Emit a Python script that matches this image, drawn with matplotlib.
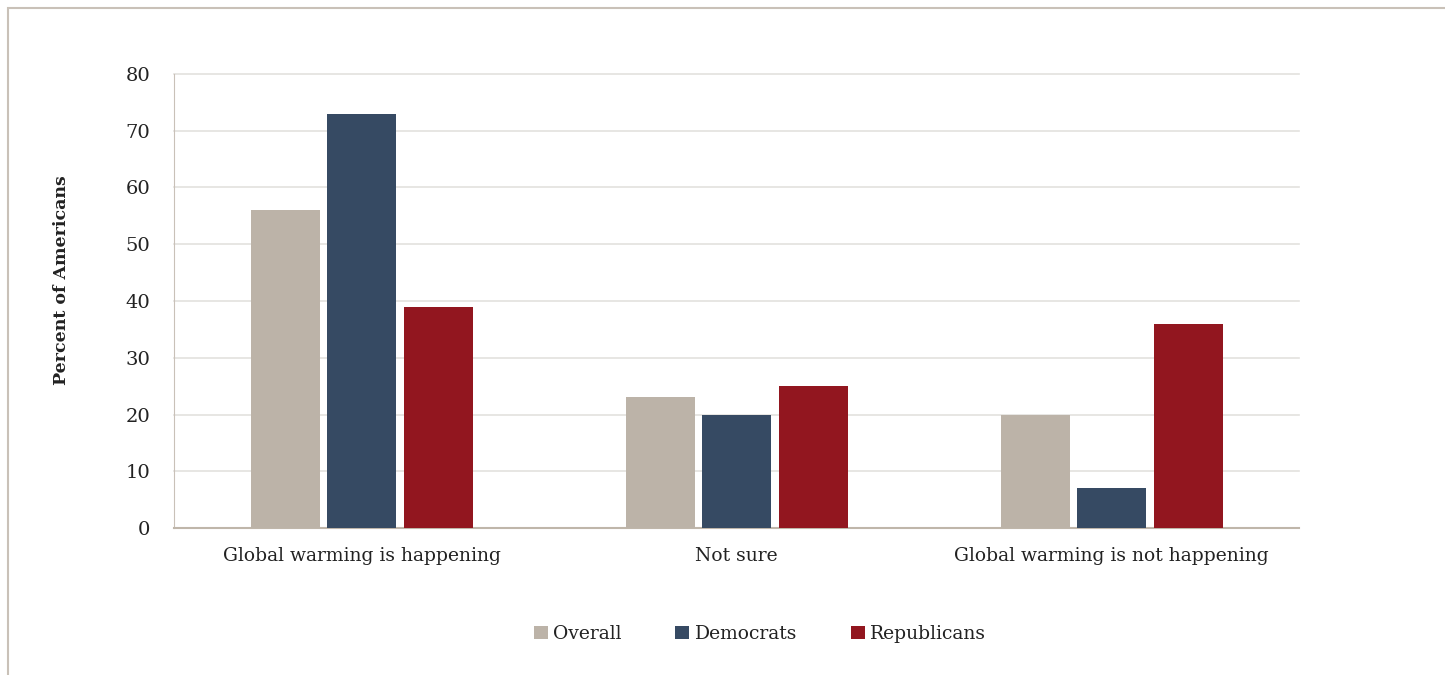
import matplotlib
matplotlib.use("Agg")
import matplotlib.pyplot as plt
from matplotlib.patches import Rectangle
import numpy as np

categories = ["Global warming is happening", "Not sure", "Global warming is not happening"]
series_names = ["Overall", "Democrats", "Republicans"]
overall = [56, 23, 20]
democrats = [73, 20, 7]
republicans = [39, 25, 36]
y_ticks = [0, 10, 20, 30, 40, 50, 60, 70, 80]

colors = ["#BCB3A8", "#364A63", "#92161F"]
text_color = "#222222"
font = "DejaVu Serif"

fig = plt.figure(figsize=(14.45, 6.75), dpi=100)
fig.patch.set_facecolor("white")

# Thin frame around the figure
fig.patches.append(Rectangle((8 / 1445, -0.05), 1.1, 1 - 8 / 675 + 0.05,
                             transform=fig.transFigure, fill=False,
                             edgecolor="#C9C1B8", linewidth=1.5, zorder=0))

ax = fig.add_axes([174 / 1445, 1 - 528 / 675, 1125 / 1445, (528 - 74) / 675])

x = np.arange(len(categories))
width = 0.184
step = 0.204
for i, (name, vals) in enumerate(zip(series_names, [overall, democrats, republicans])):
    ax.bar(x + (i - 1) * step, vals, width, color=colors[i], label=name, zorder=3)

ax.set_xlim(-0.5, 2.5)
ax.set_ylim(0, 80)
ax.set_yticks(y_ticks)
ax.set_yticklabels([str(t) for t in y_ticks], fontsize=14, color=text_color, family=font)
ax.set_xticks(x)
ax.set_xticklabels(categories, fontsize=13.5, color=text_color, family=font)
ax.tick_params(axis="both", length=0)
ax.tick_params(axis="y", pad=17)
ax.tick_params(axis="x", pad=14)

ax.grid(axis="y", color="#E3E1DE", linewidth=1.2, zorder=0)
for gl in ax.get_ygridlines():
    gl.set_clip_on(False)
for side in ["top", "right"]:
    ax.spines[side].set_visible(False)
ax.spines["left"].set_color("#C9C1B8")
ax.spines["bottom"].set_color("#BFB6AA")
ax.spines["bottom"].set_linewidth(1.5)

fig.text(62 / 1445, 1 - 280 / 675, "Percent of Americans", rotation=90,
         ha="center", va="center", fontsize=12.5, fontweight="bold",
         color=text_color, family=font)

leg = fig.legend(loc="center", bbox_to_anchor=(760 / 1445, 1 - 634 / 675), ncol=3,
                 frameon=False, handlelength=0.75, handleheight=0.75,
                 handletextpad=0.3, columnspacing=2.85,
                 prop={"family": font, "size": 13.5})
for t in leg.get_texts():
    t.set_color(text_color)

fig.savefig("out.png", dpi=100, facecolor="white")
